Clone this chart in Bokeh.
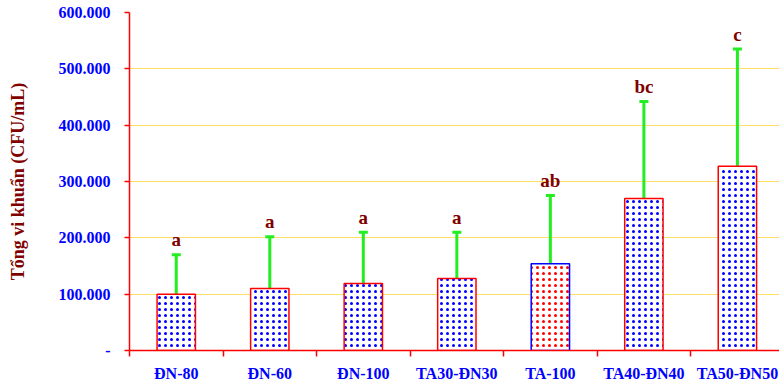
from bokeh.plotting import figure
from bokeh.models import FixedTicker, ColumnDataSource, Whisker, TeeHead, Range1d
from bokeh.embed import file_html
from bokeh.resources import INLINE
from bokeh.core.properties import value

categories = ["ĐN-80", "ĐN-60", "ĐN-100", "TA30-ĐN30", "TA-100", "TA40-ĐN40", "TA50-ĐN50"]
means = [100000, 110000, 119000, 128000, 154000, 270000, 327000]
errors = [70000, 92000, 91000, 82000, 121000, 172000, 208000]
letters = ["a", "a", "a", "a", "ab", "bc", "c"]
dot_colors = ["#0000FF", "#0000FF", "#0000FF", "#0000FF", "#FF0000", "#0000FF", "#0000FF"]
edge_colors = ["#FF0000", "#FF0000", "#FF0000", "#FF0000", "#0000FF", "#FF0000", "#FF0000"]
y_ticks = [0, 100000, 200000, 300000, 400000, 500000, 600000]
y_tick_labels = ["-", "100.000", "200.000", "300.000", "400.000", "500.000", "600.000"]

xs = [i + 0.5 for i in range(len(categories))]
uppers = [m + e for m, e in zip(means, errors)]

src = ColumnDataSource(dict(x=xs, cat=categories, mean=means, upper=uppers,
                            letter=letters, dot=dot_colors, edge=edge_colors))

FONT = "Liberation Serif"

p = figure(width=779, height=386, output_backend="svg", toolbar_location=None,
           x_range=Range1d(0, 6.95), y_range=Range1d(0, 600000),
           min_border_left=129, min_border_right=0, min_border_top=12, min_border_bottom=36)
p.outline_line_color = None
p.background_fill_color = "white"

p.vbar(x="x", top="mean", bottom=0, width=0.41, source=src,
       fill_color="white", line_color="edge", line_width=1.5,
       hatch_pattern="dot", hatch_color="dot", hatch_scale=6, hatch_weight=3)

w = Whisker(base="x", upper="upper", lower="mean", source=src,
            line_color="#22EE22", line_width=3,
            upper_head=TeeHead(size=9, line_color="#22EE22", line_width=3),
            lower_head=None)
p.add_layout(w)

p.text(x="x", y="upper", text="letter", source=src, text_align="center",
       text_baseline="alphabetic", y_offset=-15,
       text_font=value(FONT), text_font_style="bold", text_font_size="19px",
       text_color="#800000")

# Y axis
ya = p.yaxis[0]
ya.ticker = FixedTicker(ticks=y_ticks, minor_ticks=[])
ya.major_label_overrides = {t: l for t, l in zip(y_ticks, y_tick_labels)}
ya.axis_line_color = "#FF0000"
ya.axis_line_width = 1.5
ya.major_tick_line_color = "#FF0000"
ya.major_tick_line_width = 1.5
ya.major_tick_in = 0
ya.major_tick_out = 5
ya.major_label_standoff = 14
ya.major_label_text_font = FONT
ya.major_label_text_font_style = "bold"
ya.major_label_text_font_size = "16px"
ya.major_label_text_color = "#0000FF"
ya.axis_label = "Tổng vi khuẩn (CFU/mL)"
ya.axis_label_text_font = FONT
ya.axis_label_text_font_style = "bold"
ya.axis_label_text_font_size = "18px"
ya.axis_label_text_color = "#800000"
ya.axis_label_standoff = 28

# X axis
xa = p.xaxis[0]
xa.ticker = FixedTicker(ticks=xs, minor_ticks=list(range(0, 8)))
xa.major_label_overrides = {x: c for x, c in zip(xs, categories)}
xa.axis_line_color = "#FF0000"
xa.axis_line_width = 1.5
xa.major_tick_line_color = None
xa.major_tick_in = 0
xa.major_tick_out = 0
xa.minor_tick_line_color = "#FF0000"
xa.minor_tick_line_width = 1.5
xa.minor_tick_in = 0
xa.minor_tick_out = 6
xa.major_label_standoff = 8
xa.major_label_text_font = FONT
xa.major_label_text_font_style = "bold"
xa.major_label_text_font_size = "16px"
xa.major_label_text_color = "#0000FF"

p.xgrid.grid_line_color = None
p.ygrid.ticker = FixedTicker(ticks=y_ticks[1:])
p.ygrid.grid_line_color = "#FFE066"
p.ygrid.grid_line_width = 1

open("out.html", "w").write(file_html(p, INLINE))
